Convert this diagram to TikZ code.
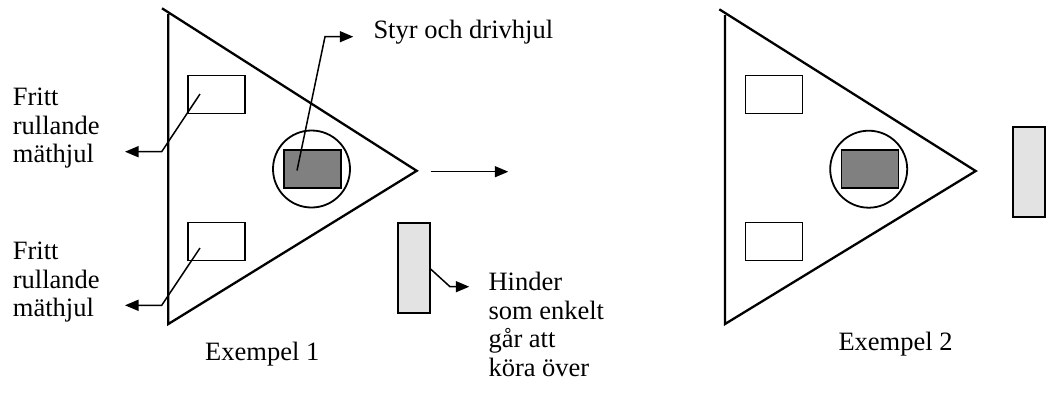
\documentclass[tikz,border=0pt]{standalone}
\usepackage{fontspec}
\setmainfont{Liberation Serif}
\usetikzlibrary{arrows.meta}
\definecolor{darkwheel}{RGB}{128,128,128}
\definecolor{obst}{RGB}{227,227,227}
\begin{document}
\begin{tikzpicture}[x=1pt,y=-1pt,
  body/.style={draw, line width=2.3pt, line join=miter},
  freewheel/.style={draw, line width=1.5pt, fill=white, minimum width=57pt, minimum height=38pt, inner sep=0pt, outer sep=0pt},
  drivewheel/.style={draw, line width=1.5pt, fill=darkwheel, minimum width=57pt, minimum height=38pt, inner sep=0pt, outer sep=0pt},
  ring/.style={draw, circle, line width=1.8pt, minimum size=77pt, inner sep=0pt, outer sep=0pt},
  obstacle/.style={draw, line width=2pt, fill=obst, minimum width=32pt, minimum height=90pt, inner sep=0pt, outer sep=0pt},
  leader/.style={line width=1.5pt, -{Triangle[length=13.5pt,width=11pt]}},
  lbl/.style={anchor=base west, inner sep=0pt, align=left, font=\fontsize{26.5}{28.5}\selectfont},
]
\useasboundingbox (0,0) rectangle (1046,392);

% ---------- Example 1 ----------
\draw[body] (162,8.3) -- (416.7,170.8) -- (168.3,324) -- (168.3,14);
\node[freewheel] (fa) at (216.5,94.3) {};
\node[freewheel] (fb) at (216.5,241.7) {};
\node[ring] (ra) at (311.5,169) {};
\node[drivewheel] (da) at (312.5,169.2) {};
\node[obstacle] (oa) at (413.7,268.2) {};

% labels (base anchor = baseline of the last line)
\node[lbl] (t1) at (12.7,162.5) {Fritt\\rullande\\mäthjul};
\node[lbl] (t2) at (12.7,316.5) {Fritt\\rullande\\mäthjul};
\node[lbl] (t3) at (373.3,38.3) {Styr och drivhjul};
\node[lbl] (t4) at (488.3,376) {Hinder\\som enkelt\\går att\\köra över};
\node[lbl] (e1) at (205,360.7) {Exempel 1};

% leaders
\coordinate (fa0) at (200,94);
\coordinate (fa1) at (161.7,151.7);
\coordinate (fa2) at (125,151.7);
\draw[leader] (fa0) -- (fa1) -- (fa2);
\coordinate (fb0) at (200,248);
\coordinate (fb1) at (161.7,305.3);
\coordinate (fb2) at (125,305.3);
\draw[leader] (fb0) -- (fb1) -- (fb2);
\coordinate (da0) at (297,170.5);
\coordinate (da1) at (325,36.7);
\coordinate (da2) at (353.3,36.7);
\draw[leader] (da0) -- (da1) -- (da2);
\coordinate (oa1) at (450,286.7);
\coordinate (oa2) at (469.3,286.7);
\draw[leader] (oa.east) -- (oa1) -- (oa2);
\coordinate (m0) at (430.7,171.7);
\coordinate (m1) at (508.3,171.7);
\draw[leader] (m0) -- (m1);

% ---------- Example 2 ----------
\draw[body] (719.3,9.3) -- (975.7,171) -- (725,324) -- (725,15);
\node[freewheel] (fc) at (774.2,94.5) {};
\node[freewheel] (fd) at (774.2,241.7) {};
\node[ring] (rb) at (868.7,169.2) {};
\node[drivewheel] (db) at (870.2,169.2) {};
\node[obstacle] (ob) at (1029,172.4) {};
\node[lbl] (e2) at (838.3,350) {Exempel 2};
\end{tikzpicture}
\end{document}
